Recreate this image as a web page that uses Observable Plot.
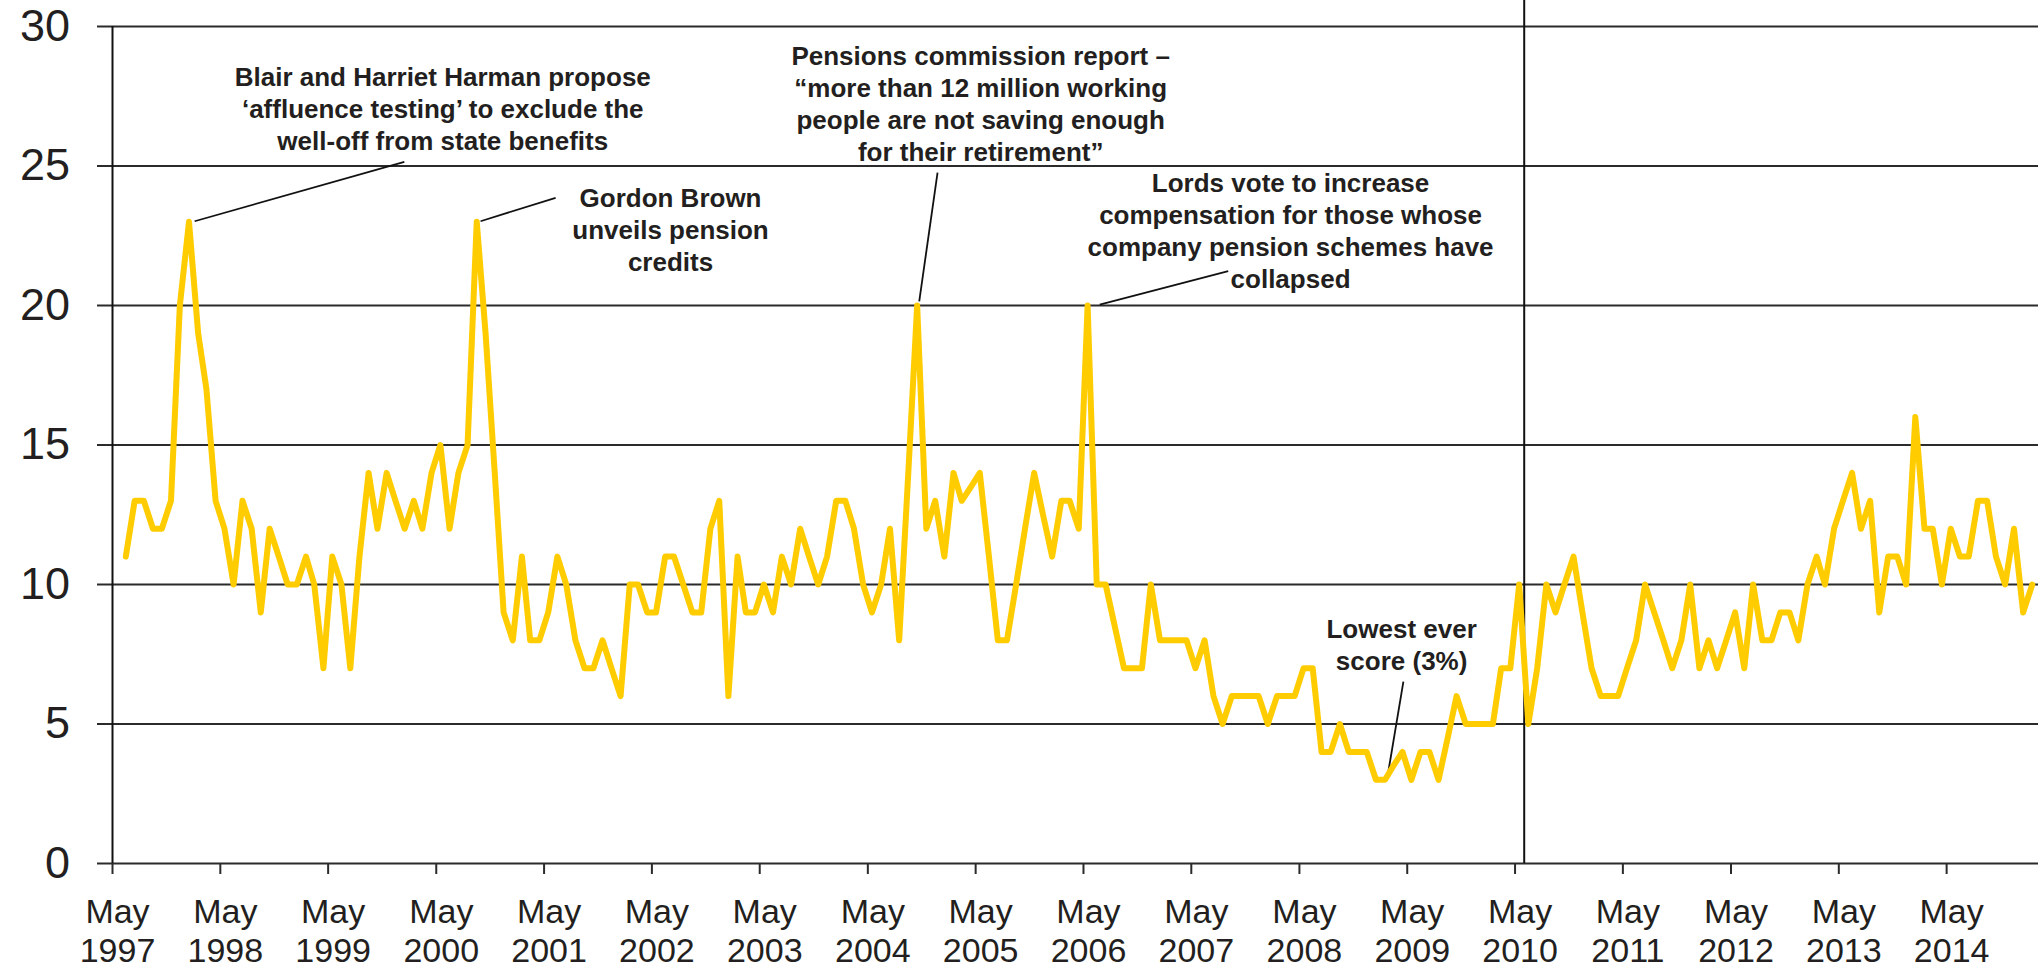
<!DOCTYPE html>
<html>
<head>
<meta charset="utf-8">
<script src="https://cdn.jsdelivr.net/npm/d3@7"></script>
<script src="https://cdn.jsdelivr.net/npm/@observablehq/plot@0.6"></script>
<style>
  html, body { margin: 0; padding: 0; background: #fff; }
</style>
</head>
<body>
<div id="chart"></div>
<script>
// Survey months (June 1997 – February 2015), one reading per month
const firstMonth = "1997-06-01";
const endMonth = "2015-03-01";

// Percentage values
const values = [
  11,13,13,12,12,13,20,23,19,17,
  13,12,10,13,12,9,12,11,10,10,
  11,10,7,11,10,7,11,14,12,14,
  13,12,13,12,14,15,12,14,15,23,
  19,14,9,8,11,8,8,9,11,10,
  8,7,7,8,7,6,10,10,9,9,
  11,11,10,9,9,12,13,6,11,9,
  9,10,9,11,10,12,11,10,11,13,
  13,12,10,9,10,12,8,14,20,12,
  13,11,14,13,13.5,14,11,8,8,10,
  12,14,12.5,11,13,13,12,20,10,10,
  8.5,7,7,7,10,8,8,8,8,7,
  8,6,5,6,6,6,6,5,6,6,
  6,7,7,4,4,5,4,4,4,3,
  3,3.5,4,3,4,4,3,4.5,6,5,
  5,5,5,7,7,10,5,7,10,9,
  10,11,9,7,6,6,6,7,8,10,
  9,8,7,8,10,7,8,7,8,9,
  7,10,8,8,9,9,8,10,11,10,
  12,13,14,12,13,9,11,11,10,16,
  12,12,10,12,11,11,13,13,11,10,
  12,9,10
];

// Axis ticks
const yTicks = [0, 5, 10, 15, 20, 25, 30];
const xTickYears = [1997,1998,1999,2000,2001,2002,2003,2004,2005,2006,2007,2008,2009,2010,2011,2012,2013,2014];
const xTickMonth = "May";

// Marker line (2010 general election)
const markerDates = ["2010-06-01"];

// Annotations (data coordinates)
const annotations = [
  {date: "2000-05-23", y: 28.67, label: "Blair and Harriet Harman propose\n‘affluence testing’ to exclude the\nwell-off from state benefits"},
  {date: "2002-07-03", y: 24.35, label: "Gordon Brown\nunveils pension\ncredits"},
  {date: "2005-05-18", y: 29.43, label: "Pensions commission report –\n“more than 12 million working\npeople are not saving enough\nfor their retirement”"},
  {date: "2008-04-01", y: 24.88, label: "Lords vote to increase\ncompensation for those whose\ncompany pension schemes have\ncollapsed"},
  {date: "2009-04-12", y: 8.89, label: "Lowest ever\nscore (3%)"}
];
const leaders = [
  {d1: "1998-02-03", v1: 23.02, d2: "2000-01-14", v2: 25.15},
  {d1: "2000-09-28", v1: 23.02, d2: "2001-06-09", v2: 23.86},
  {d1: "2004-10-22", v1: 20.15, d2: "2004-12-23", v2: 24.76},
  {d1: "2006-06-25", v1: 20.03, d2: "2007-09-03", v2: 21.23},
  {d1: "2009-02-26", v1: 3.29, d2: "2009-04-18", v2: 6.52}
];

const months = d3.utcMonth.range(new Date(firstMonth), new Date(endMonth));
const data = months.map((m, i) => ({date: d3.utcDay.offset(m, 14), value: values[i]}));
const xTickDates = xTickYears.map(y => new Date(Date.UTC(y, 4, 1)));
const ink = "#231f20";
const gridInk = "#2b2b2b";

const chart = Plot.plot({
  width: 2038,
  height: 966,
  marginLeft: 112,
  marginRight: 0,
  marginTop: 26,
  marginBottom: 103,
  style: {fontFamily: "'Liberation Sans', Arial, sans-serif", color: ink, background: "#fff", overflow: "visible"},
  x: {type: "utc", domain: [new Date("1997-05-01"), new Date("2015-03-08")]},
  y: {domain: [0, 30]},
  marks: [
    Plot.gridY(yTicks, {stroke: gridInk, strokeOpacity: 1, strokeWidth: 2}),
    Plot.axisY(yTicks, {tickSize: 15, tickPadding: 27.5, fontSize: 45, stroke: gridInk, strokeWidth: 2, fill: ink, tickFormat: d => String(d)}),
    Plot.axisX(xTickDates, {tickSize: 11, tickFormat: () => "", stroke: gridInk, strokeWidth: 2}),
    Plot.axisX(xTickDates, {tickSize: 0, tickPadding: 30.6, dx: 5, fontSize: 34, lineHeight: 40/34, lineAnchor: "top", fill: ink,
      tickFormat: d => `${xTickMonth}\n${d.getUTCFullYear()}`}),
    Plot.ruleX([new Date("1997-05-01")], {y1: 0, y2: 30, stroke: "#111", strokeWidth: 2}),
    Plot.ruleX(markerDates, {x: d => new Date(d), y1: 0, y2: 31, stroke: "#111", strokeWidth: 2}),
    Plot.link(leaders, {x1: d => new Date(d.d1), y1: "v1", x2: d => new Date(d.d2), y2: "v2", stroke: "#111", strokeWidth: 1.8}),
    Plot.line(data, {x: "date", y: "value", stroke: "#FFCC00", strokeWidth: 6, strokeLinejoin: "round", strokeLinecap: "round"}),
    Plot.text(annotations, {x: d => new Date(d.date), y: "y", text: "label", fontSize: 26, fontWeight: "bold",
      lineAnchor: "top", lineHeight: 32/26, textAnchor: "middle", fill: ink})
  ]
});
document.getElementById("chart").appendChild(chart);
</script>
</body>
</html>
